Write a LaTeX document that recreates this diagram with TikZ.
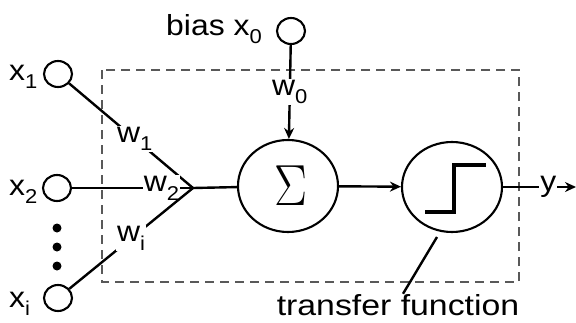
\documentclass[tikz,border=0pt]{standalone}
\usepackage{fontspec}
\setmainfont{Liberation Sans}
\newfontfamily\lmsym{Latin Modern Roman}
\usetikzlibrary{shapes.geometric,arrows.meta}
\newcommand\sbs[1]{\raisebox{-0.3em}{\fontsize{20}{20}\selectfont #1}}
\begin{document}
\begin{tikzpicture}[x=1pt,y=-1pt,
  inp/.style={draw, line width=2.1pt, ellipse, minimum width=28pt, minimum height=26pt, inner sep=0pt},
  big/.style={draw, ellipse, line width=2.1pt, minimum width=100pt, minimum height=92pt, inner sep=0pt},
  txt/.style={font=\fontsize{29}{30}\selectfont, inner sep=0pt, xscale=1.1},
  wl/.style={txt, fill=white, inner sep=1pt},
  wire/.style={line width=2.4pt},
  arr/.style={wire, -{Stealth[length=11pt,width=10pt]}},
  dot/.style={circle, fill=black, minimum size=9pt, inner sep=0pt}]
\useasboundingbox (0,0) rectangle (576,322);
\draw[gray!70!black, line width=1.6pt, dash pattern=on 9pt off 6pt] (102,70) rectangle (519,282);
\node[inp] (x1) at (58,74) {};
\node[inp] (x2) at (57,188) {};
\node[inp] (xi) at (58,298) {};
\node[inp] (x0) at (291,31) {};
\node[dot] (d1) at (57,228) {};
\node[dot] (d2) at (57,247) {};
\node[dot] (d3) at (57,266) {};
\node[txt, anchor=base west] (lx1) at (9,80) {x\sbs{1}};
\node[txt, anchor=base west] (lx2) at (9,195) {x\sbs{2}};
\node[txt, anchor=base west] (lxi) at (9,307) {x\sbs{i}};
\node[txt, anchor=base west] (lbias) at (166,35) {bias x\sbs{0}};
\coordinate (j) at (193,188);
\node[big] (sig) at (288,186) {};
\node[big, minimum height=90pt] (stp) at (452,187) {};
\node[font=\lmsym\fontsize{58}{58}\selectfont, xscale=0.85, inner sep=0pt] (sym) at (291,186) {Σ};
\coordinate (out) at (576,187);
\draw[wire] (x1) -- node[wl, pos=0.53] {w\sbs{1}} (j);
\draw[wire] (x2) -- node[wl, pos=0.74] {w\sbs{2}} (j);
\draw[wire] (xi) -- node[wl, pos=0.5] {w\sbs{i}} (j);
\draw[wire] (j) -- (sig);
\draw[arr] (x0) -- node[wl, pos=0.5] {w\sbs{0}} (sig);
\draw[arr] (sig) -- (stp);
\draw[arr] (stp) -- node[wl, pos=0.62] {y} (out);
\coordinate (s1) at (425,212);
\coordinate (s2) at (454,212);
\coordinate (s3) at (454,165);
\coordinate (s4) at (486,165);
\draw[line width=4.2pt] (s1) -- (s2) -- (s3) -- (s4);
\node[txt, anchor=base, xscale=1.06] (tf) at (398,315) {transfer function};
\coordinate (tfa) at (437,237);
\draw[wire] (tfa) -- (tf.north -| 403,0);
\end{tikzpicture}
\end{document}
